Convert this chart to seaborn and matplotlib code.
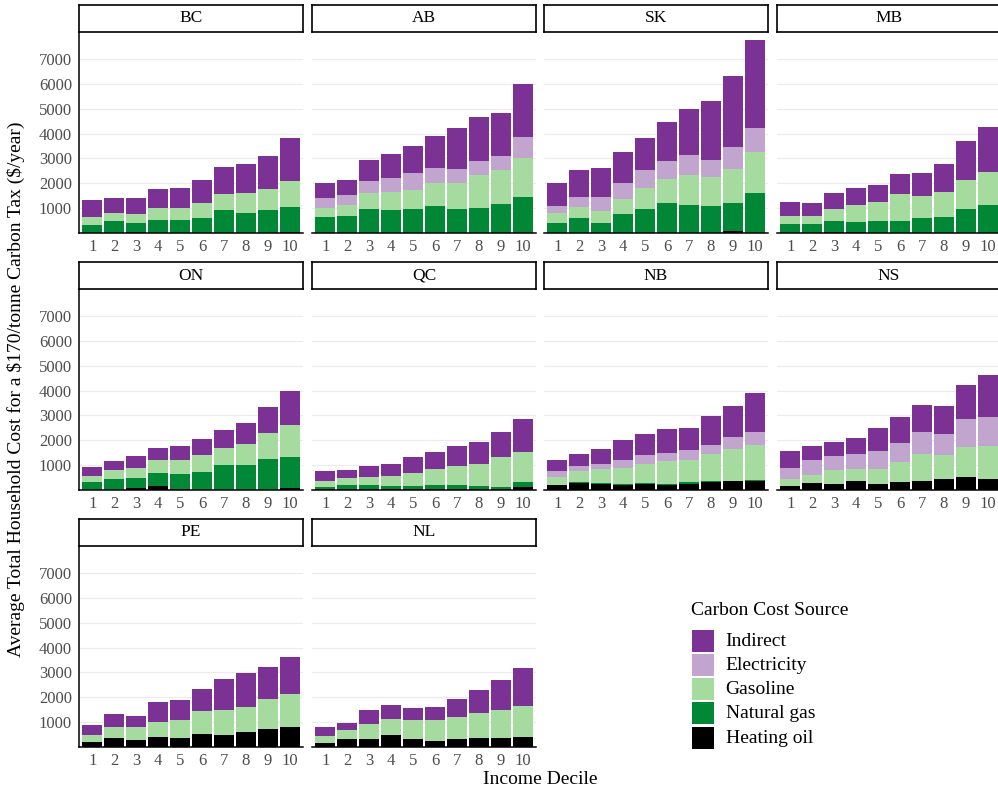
import numpy as np
import pandas as pd
import matplotlib
matplotlib.use("Agg")
import matplotlib.pyplot as plt
from matplotlib.patches import Rectangle
import seaborn as sns

# ---- data: household carbon cost ($/year) by income decile and source ----
provinces = ["BC", "AB", "SK", "MB", "ON", "QC", "NB", "NS", "PE", "NL"]
deciles = [1, 2, 3, 4, 5, 6, 7, 8, 9, 10]
sources = ["Heating oil", "Natural gas", "Gasoline", "Electricity", "Indirect"]  # bottom -> top

heating_oil = {
    "BC": [0, 0, 30, 0, 0, 0, 0, 0, 0, 30],
    "AB": [0, 0, 0, 0, 0, 0, 0, 0, 0, 0],
    "SK": [0, 0, 0, 0, 0, 0, 0, 0, 100, 0],
    "MB": [0, 0, 30, 30, 0, 0, 0, 0, 0, 0],
    "ON": [0, 0, 70, 180, 50, 0, 0, 0, 0, 70],
    "QC": [50, 50, 60, 40, 40, 60, 50, 40, 30, 130],
    "NB": [185, 280, 240, 215, 240, 215, 240, 320, 350, 360],
    "NS": [145, 280, 225, 350, 240, 320, 375, 440, 535, 455],
    "PE": [200, 360, 280, 400, 360, 525, 480, 605, 735, 790],
    "NL": [160, 320, 320, 470, 335, 255, 310, 375, 360, 415],
}
natural_gas = {
    "BC": [310, 470, 375, 510, 510, 615, 940, 805, 940, 1030],
    "AB": [630, 700, 965, 940, 980, 1085, 965, 1020, 1180, 1435],
    "SK": [415, 590, 415, 765, 965, 1195, 1130, 1075, 1095, 1625],
    "MB": [360, 360, 455, 425, 485, 470, 590, 630, 955, 1115],
    "ON": [305, 440, 425, 515, 605, 735, 1015, 990, 1255, 1240],
    "QC": [80, 150, 140, 105, 120, 125, 135, 120, 75, 175],
    "NB": [30, 40, 25, 40, 55, 40, 65, 30, 25, 30],
    "NS": [20, 0, 0, 0, 0, 0, 0, 0, 0, 0],
    "PE": [0, 0, 0, 0, 0, 0, 0, 0, 0, 0],
    "NL": [0, 0, 0, 0, 0, 0, 0, 0, 0, 0],
}
gasoline = {
    "BC": [335, 335, 375, 510, 485, 605, 630, 805, 830, 1035],
    "AB": [375, 430, 645, 700, 740, 915, 1060, 1315, 1355, 1570],
    "SK": [390, 455, 455, 590, 845, 980, 1195, 1180, 1395, 1625],
    "MB": [335, 310, 470, 660, 780, 1085, 885, 1005, 1180, 1355],
    "ON": [255, 360, 400, 495, 535, 655, 670, 870, 1040, 1325],
    "QC": [245, 270, 310, 400, 520, 670, 775, 870, 1205, 1205],
    "NB": [320, 430, 575, 630, 735, 910, 895, 1080, 1295, 1405],
    "NS": [275, 310, 565, 480, 615, 790, 1055, 975, 1215, 1335],
    "PE": [280, 455, 510, 620, 740, 910, 1020, 1000, 1205, 1340],
    "NL": [295, 350, 590, 640, 735, 830, 895, 990, 1115, 1220],
}
electricity = {
    "BC": [0, 0, 0, 0, 0, 0, 0, 0, 0, 0],
    "AB": [390, 390, 495, 590, 700, 615, 535, 550, 575, 845],
    "SK": [295, 405, 590, 655, 725, 740, 830, 700, 870, 995],
    "MB": [0, 0, 0, 0, 0, 0, 0, 0, 0, 0],
    "ON": [0, 0, 0, 0, 0, 0, 0, 0, 0, 0],
    "QC": [0, 0, 0, 0, 0, 0, 0, 0, 0, 0],
    "NB": [225, 215, 200, 335, 375, 335, 390, 400, 470, 520],
    "NS": [440, 600, 590, 600, 720, 800, 885, 855, 1095, 1165],
    "PE": [0, 0, 0, 0, 0, 0, 0, 0, 0, 0],
    "NL": [0, 0, 0, 0, 0, 0, 0, 0, 0, 0],
}
indirect = {
    "BC": [700, 590, 645, 750, 835, 925, 1075, 1180, 1340, 1745],
    "AB": [630, 615, 845, 955, 1100, 1275, 1680, 1770, 1720, 2135],
    "SK": [925, 1085, 1170, 1250, 1290, 1555, 1825, 2350, 2875, 3505],
    "MB": [550, 525, 670, 710, 685, 805, 955, 1125, 1555, 1810],
    "ON": [375, 375, 480, 520, 575, 670, 720, 855, 1045, 1350],
    "QC": [375, 345, 470, 520, 630, 680, 830, 910, 1005, 1365],
    "NB": [455, 480, 600, 800, 840, 950, 920, 1165, 1255, 1590],
    "NS": [670, 575, 560, 655, 910, 1030, 1110, 1110, 1390, 1655],
    "PE": [400, 520, 455, 775, 775, 910, 1245, 1365, 1270, 1485],
    "NL": [350, 295, 560, 600, 495, 510, 735, 925, 1230, 1555],
}

palette = {
    "Indirect": "#7B3294",
    "Electricity": "#C2A5CF",
    "Gasoline": "#A6DBA0",
    "Natural gas": "#008837",
    "Heating oil": "#000000",
}

# ---- long table with stacked tops ----
by_source = {
    "Heating oil": heating_oil,
    "Natural gas": natural_gas,
    "Gasoline": gasoline,
    "Electricity": electricity,
    "Indirect": indirect,
}
rows = []
for prov in provinces:
    for i, dec in enumerate(deciles):
        for src in sources:
            rows.append((prov, dec, src, by_source[src][prov][i]))
df = pd.DataFrame(rows, columns=["province", "decile", "source", "cost"])
df["source"] = pd.Categorical(df["source"], categories=sources, ordered=True)
df = df.sort_values(["province", "decile", "source"])
df["top"] = df.groupby(["province", "decile"])["cost"].cumsum()

# ---- figure ----
sns.set_style("white")
plt.rcParams["font.family"] = ["Liberation Serif", "DejaVu Serif"]

W, H = 998, 791
fig = plt.figure(figsize=(W / 100, H / 100), dpi=100)

col_x = [79, 312, 544, 777]
row_top = [33, 290, 547]
panel_w, panel_h = 224, 200
strip_h = 27
ymax = 8050


def px_axes(x, y, w, h):
    return fig.add_axes([x / W, 1 - (y + h) / H, w / W, h / H])


for k, prov in enumerate(provinces):
    r, c = divmod(k, 4)
    x0, y0 = col_x[c], row_top[r]
    ax = px_axes(x0, y0, panel_w, panel_h)
    sub = df[df["province"] == prov]

    # draw cumulative tops from the highest layer down so each source shows its share
    for src in sources[::-1]:
        part = sub[sub["source"] == src]
        sns.barplot(data=part, x="decile", y="top", color=palette[src],
                    saturation=1, width=0.9, errorbar=None, linewidth=0,
                    ax=ax, zorder=2)

    ax.set_xlim(-0.6, 9.6)
    ax.set_ylim(0, ymax)
    ax.set_yticks([1000, 2000, 3000, 4000, 5000, 6000, 7000])
    ax.yaxis.grid(True, color="#EBEBEB", linewidth=0.8, zorder=0)
    ax.xaxis.grid(False)
    ax.set_axisbelow(True)
    ax.set_xlabel("")
    ax.set_ylabel("")
    ax.set_xticks(range(10))
    ax.set_xticklabels([str(d) for d in deciles])
    ax.tick_params(axis="both", length=0, labelsize=12, labelcolor="#4D4D4D")
    ax.tick_params(axis="x", pad=4)
    ax.tick_params(axis="y", pad=5)
    for s in ["top", "right"]:
        ax.spines[s].set_visible(False)
    ax.spines["bottom"].set_color("black")
    ax.spines["bottom"].set_linewidth(1.1)
    if c == 0:
        ax.spines["left"].set_color("black")
        ax.spines["left"].set_linewidth(1.1)
    else:
        ax.spines["left"].set_visible(False)
        ax.set_yticklabels([])

    # facet strip
    sax = px_axes(x0, y0 - strip_h - 1, panel_w, strip_h)
    sax.set_xticks([])
    sax.set_yticks([])
    sax.set_facecolor("white")
    for s in sax.spines.values():
        s.set_visible(True)
        s.set_color("black")
        s.set_linewidth(1.2)
    sax.text(0.5, 0.5, prov, ha="center", va="center", fontsize=12.5,
             color="black", transform=sax.transAxes)

# axis titles
fig.text(16 / W, 1 - 389 / H,
         "Average Total Household Cost for a \\$170/tonne Carbon Tax (\\$/year)",
         rotation=90, ha="center", va="center", fontsize=14, color="black")
fig.text(540 / W, 1 - 779 / H, "Income Decile", ha="center", va="center",
         fontsize=14, color="black")

# legend: key squares and labels, top entry = top of stack
fig.text(691 / W, 1 - 610.5 / H, "Carbon Cost Source", ha="left", va="center",
         fontsize=14, color="black")
key_top, key_step, key_size = 629.5, 24.3, 22
for j, src in enumerate(sources[::-1]):
    ky = key_top + j * key_step
    fig.add_artist(Rectangle((692 / W, 1 - (ky + key_size) / H),
                             key_size / W, key_size / H,
                             transform=fig.transFigure,
                             facecolor=palette[src], edgecolor="none"))
    fig.text(725.5 / W, 1 - (ky + key_size / 2 + 0.5) / H, src,
             ha="left", va="center", fontsize=14, color="black")

fig.savefig("out.png", dpi=100)
